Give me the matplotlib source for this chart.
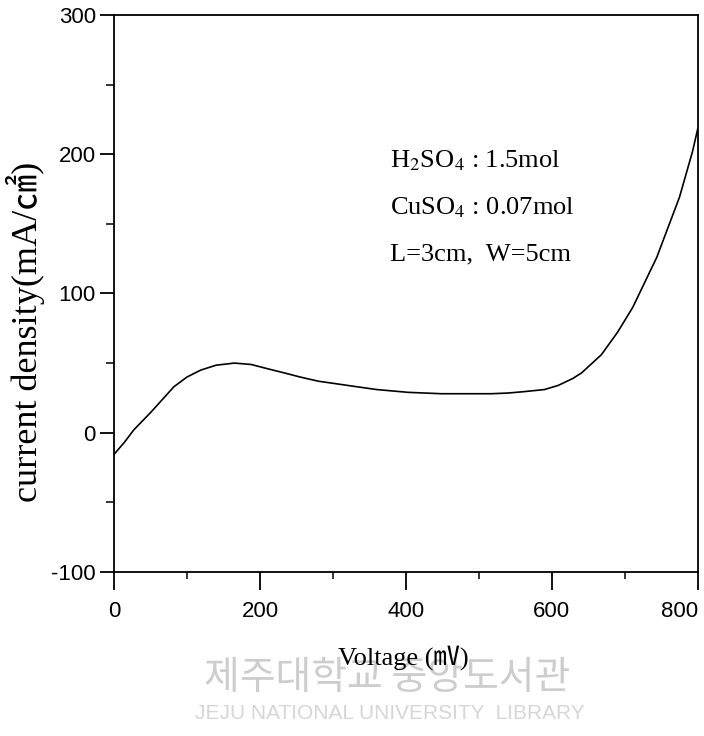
import numpy as np
import matplotlib
matplotlib.use("Agg")
import matplotlib.pyplot as plt
from matplotlib.ticker import MultipleLocator

plt.rcParams["axes.unicode_minus"] = False
plt.rcParams["mathtext.fontset"] = "stix"

# values
voltage = [0, 14, 27, 51, 82, 100, 119, 140, 165, 188, 210, 233, 255, 280,
           300, 325, 360, 403, 449, 517, 540, 562, 590, 609, 629, 641, 668,
           690, 711, 744, 775, 793, 800]
current = [-15.5, -7, 2, 15, 33, 40, 45, 48.5, 50, 49, 46, 43, 40, 37,
           35.5, 33.6, 31, 29, 28, 28, 28.5, 29.5, 31, 34, 39, 43, 56,
           72, 90, 126, 169, 202, 218]

x_ticks = [0, 200, 400, 600, 800]
y_ticks = [-100, 0, 100, 200, 300]
notes = ["H$_2$SO$_4$ : 1.5mol", "CuSO$_4$ : 0.07mol", "L=3cm,  W=5cm"]

tick_font = ["Liberation Sans", "DejaVu Sans"]
serif_font = ["Liberation Serif", "Noto Sans CJK KR", "DejaVu Sans"]

fig = plt.figure(figsize=(7.04, 7.36), dpi=100)
ax = fig.add_axes([0.162, 0.2228, 0.829, 0.757])

ax.plot(voltage, current, color="black", lw=1.2)

ax.set_xlim(0, 800)
ax.set_ylim(-100, 300)
ax.set_xticks(x_ticks)
ax.set_yticks(y_ticks)
ax.xaxis.set_minor_locator(MultipleLocator(100))
ax.yaxis.set_minor_locator(MultipleLocator(50))
ax.tick_params(axis="x", which="major", direction="out", length=13, width=1.3, pad=8)
ax.tick_params(axis="x", which="minor", direction="out", length=5, width=1.1)
ax.tick_params(axis="y", which="major", direction="out", length=10, width=1.3, pad=3)
ax.tick_params(axis="y", which="minor", direction="out", length=6, width=1.1)
for lab in ax.get_xticklabels() + ax.get_yticklabels():
    lab.set_family(tick_font)
    lab.set_fontsize(16)
ax.get_xticklabels()[-1].set_horizontalalignment("right")
for sp in ax.spines.values():
    sp.set_linewidth(1.3)

for i, t in enumerate(notes):
    ax.text(0.473, 0.738 - i * 0.0844, t, transform=ax.transAxes,
            fontsize=19, family=serif_font, va="center", ha="left")

fig.text(0.036, 0.549, "current density(mA/㎠)", rotation=90, fontsize=26,
         family=serif_font, ha="center", va="center")

# library watermark from the scan
fig.text(0.55, 0.079, "제주대학교 중앙도서관", fontsize=28, color="#cdcdcd",
         family=["Noto Sans CJK KR"], ha="center", va="center", zorder=0)
fig.text(0.554, 0.030, "JEJU NATIONAL UNIVERSITY  LIBRARY", fontsize=15,
         color="#d6d6d6", family=["Liberation Sans", "DejaVu Sans"],
         ha="center", va="center", zorder=0)

fig.text(0.573, 0.106, "Voltage (㎷)", fontsize=19, family=serif_font,
         ha="center", va="center")

fig.savefig("out.png", dpi=100)
